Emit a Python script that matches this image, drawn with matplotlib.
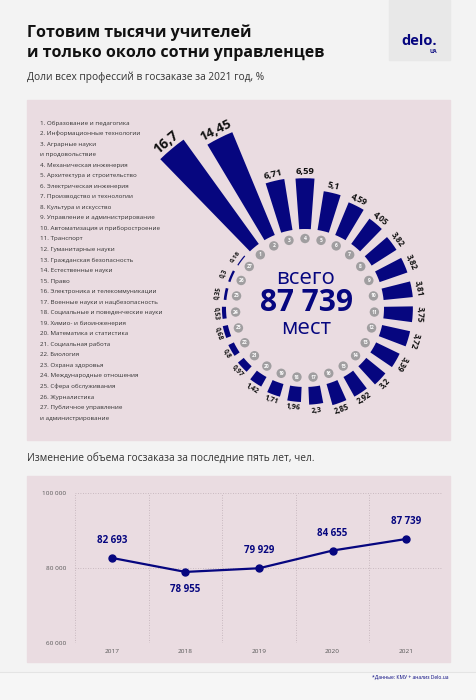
import numpy as np
import matplotlib
matplotlib.use("Agg")
import matplotlib.pyplot as plt
from matplotlib.patches import Rectangle

plt.rcParams['font.family'] = ['Open Sans', 'DejaVu Sans']

# ---------------- data ----------------
professions = [
    "1. Образование и педагогика",
    "2. Информационные технологии",
    "3. Аграрные науки\nи продовольствие",
    "4. Механическая инженерия",
    "5. Архитектура и строительство",
    "6. Электрическая инженерия",
    "7. Производство и технологии",
    "8. Культура и искусство",
    "9. Управление и администрирование",
    "10. Автоматизация и приборостроение",
    "11. Транспорт",
    "12. Гуманитарные науки",
    "13. Гражданская безопасность",
    "14. Естественные науки",
    "15. Право",
    "16. Электроника и телекоммуникации",
    "17. Военные науки и нацбезопасность",
    "18. Социальные и поведенческие науки",
    "19. Химио- и биоинженерия",
    "20. Математика и статистика",
    "21. Социальная работа",
    "22. Биология",
    "23. Охрана здоровья",
    "24. Международные отношения",
    "25. Сфера обслуживания",
    "26. Журналистика",
    "27. Публичное управление\nи администрирование",
]
shares = [16.7, 14.45, 6.71, 6.59, 5.1, 4.59, 4.05, 3.82, 3.82, 3.81, 3.75,
          3.72, 3.39, 3.2, 2.92, 2.85, 2.3, 1.96, 1.71, 1.42, 0.97, 0.8,
          0.68, 0.53, 0.35, 0.3, 0.16]
total_places = "87 739"

years = ["2017", "2018", "2019", "2020", "2021"]
volumes = [82693, 78955, 79929, 84655, 87739]
y_ticks = [60000, 80000, 100000]

title_lines = ["Готовим тысячи учителей", "и только около сотни управленцев"]
subtitle1 = "Доли всех профессий в госзаказе за 2021 год, %"
subtitle2 = "Изменение объема госзаказа за последние пять лет, чел."
source = "*Данные: КМУ + анализ Delo.ua"

# ---------------- styles ----------------
W, H = 476, 700
NAVY = "#06067f"
PINK = "#eadce1"
BG = "#f3f3f3"
GRAY_TXT = "#333333"

def fmt_num(v):
    return f"{v:,}".replace(",", " ")

fig = plt.figure(figsize=(W / 100, H / 100), dpi=100)
fig.patch.set_facecolor(BG)

bg = fig.add_axes([0, 0, 1, 1])
bg.set_xlim(0, W)
bg.set_ylim(H, 0)
bg.axis("off")

# panels
bg.add_patch(Rectangle((27, 100), 423, 340, color=PINK, zorder=0))
bg.add_patch(Rectangle((27, 476), 423, 186, color=PINK, zorder=0))
bg.add_patch(Rectangle((0, 672), W, 28, color="#f6f6f6", zorder=0))
bg.plot([0, W], [672, 672], color="#e4e4e4", lw=0.8, zorder=0)
# logo box
bg.add_patch(Rectangle((389, 0), 61, 60, color="#e8e8e8", zorder=0))
bg.text(419, 41, "delo.", color=NAVY, fontsize=10.5, fontweight="bold",
        ha="center", va="center")
bg.text(433, 51.5, "UA", color=NAVY, fontsize=3.8, fontweight="bold",
        ha="center", va="center")

# titles
bg.text(27, 33, title_lines[0], fontsize=11.5, fontweight="bold", color="#111111",
        ha="left", va="center")
bg.text(27, 53, title_lines[1], fontsize=11.5, fontweight="bold", color="#111111",
        ha="left", va="center")
bg.text(27, 77, subtitle1, fontsize=7.3, color=GRAY_TXT, ha="left", va="center")
bg.text(27, 458, subtitle2, fontsize=7.3, color=GRAY_TXT, ha="left", va="center")
bg.text(449, 677, source, fontsize=3.6, color=NAVY, ha="right", va="center")

# legend list
y = 123
step = 10.54
for p in professions:
    for line in p.split("\n"):
        bg.text(40, y, line, fontsize=4.5, color=GRAY_TXT, ha="left", va="center")
        y += step

# ---------------- radial bar chart ----------------
cx, cy, R = 305, 308, 240
pax = fig.add_axes([(cx - R) / W, 1 - (cy + R) / H, 2 * R / W, 2 * R / H],
                   projection="polar")
pax.set_ylim(0, R)
pax.axis("off")
pax.patch.set_alpha(0)

n = len(shares)
step_deg = 360 / n
theta_deg = np.array([130 - i * step_deg for i in range(n)])
theta = np.deg2rad(theta_deg)
inner = 79
scale = 7.7
lengths = np.array(shares) * scale
pax.bar(theta, lengths, width=np.deg2rad(8.4), bottom=inner, color=NAVY,
        edgecolor="none", align="center")

# number circles
pax.scatter(theta, [69.5] * n, s=46, color="#a09ea0", edgecolor="none", zorder=3)
for i, t in enumerate(theta):
    pax.text(t, 69.5, str(i + 1), fontsize=3.6, color="white", fontweight="bold",
             ha="center", va="center", zorder=4)

# value labels
for i, (t, td, v, L) in enumerate(zip(theta, theta_deg, shares, lengths)):
    a = (td + 180) % 360 - 180
    rot = a + 90 if a < -30 else a - 90
    fs = 4.6 + 0.33 * v
    off = 4 + 0.45 * fs
    pax.text(t, inner + L + off, str(v).replace(".", ","), fontsize=fs,
             fontweight="bold", color="#111111", rotation=rot,
             rotation_mode="anchor", ha="center", va="center")

# center text
bg.text(306, 279, "всего", fontsize=16, color=NAVY, ha="center", va="center")
bg.text(306, 303, total_places, fontsize=21.5, fontweight="bold", color=NAVY,
        ha="center", va="center")
bg.text(306, 328, "мест", fontsize=16, color=NAVY, ha="center", va="center")

# ---------------- line chart ----------------
lax = fig.add_axes([75 / W, 1 - 643 / H, (443 - 75) / W, (643 - 493) / H])
lax.patch.set_alpha(0)
x = np.arange(len(years))
lax.set_xlim(-0.5, len(years) - 0.5)
lax.set_ylim(y_ticks[0], y_ticks[-1])
for s in lax.spines.values():
    s.set_visible(False)
for b in np.arange(-0.5, len(years), 1.0):
    lax.axvline(b, color="#bfaeb5", lw=0.6, ls=(0, (1, 2)), zorder=0)
for yt in y_ticks:
    lax.axhline(yt, color="#bfaeb5", lw=0.6, ls=(0, (1, 2)), zorder=0)
lax.set_xticks(x)
lax.set_xticklabels(years, fontsize=4.6, color="#555555")
lax.set_yticks(y_ticks)
lax.set_yticklabels([fmt_num(v) for v in y_ticks], fontsize=4.6, color="#555555")
lax.tick_params(length=0)
lax.tick_params(axis="y", pad=6.5)
lax.tick_params(axis="x", pad=4.5)
lax.plot(x, volumes, color=NAVY, lw=1.6, marker="o", markersize=5, zorder=3)
for i, v in enumerate(volumes):
    below = i > 0 and v < volumes[i - 1] and (i + 1 >= len(volumes) or v < volumes[i + 1])
    dy = -13 if below else 12.5
    lax.annotate(fmt_num(v), (i, v), xytext=(0, dy), textcoords="offset points",
                 ha="center", va="center", fontsize=7, fontweight="bold",
                 color=NAVY)

fig.savefig("out.png", dpi=100, facecolor=fig.get_facecolor())
